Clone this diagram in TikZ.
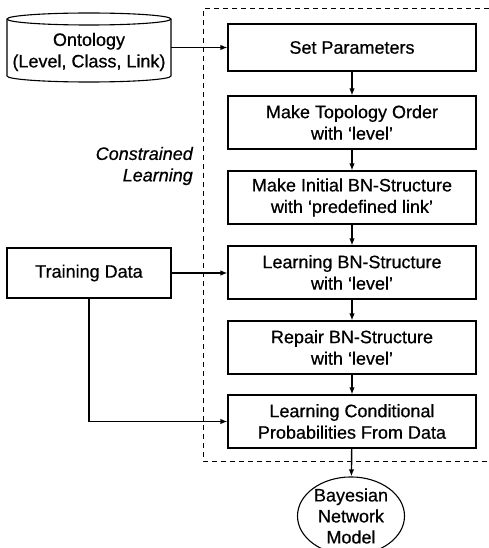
\documentclass[tikz,border=0pt]{standalone}
\usepackage{fontspec}
\setmainfont{Liberation Sans}[FakeBold=0.6]
\usetikzlibrary{arrows.meta,shapes.geometric}
\tikzset{
  txt/.style={font=\fontsize{18}{21.5}\selectfont, align=center, inner sep=0pt},
  stepbox/.style={txt, draw, line width=1.1pt, minimum width=248pt, minimum height=53pt},
  sidebox/.style={txt, draw, line width=1.1pt, minimum width=164pt, minimum height=50pt},
  flow/.style={-{Latex[length=7pt,width=5.5pt]}, line width=1.4pt},
  regionline/.style={dash pattern=on 5pt off 4pt, line width=1pt},
}
\begin{document}
\begin{tikzpicture}[x=1pt,y=1pt]
\useasboundingbox (0,0) rectangle (489,-548);
\clip (0,0) rectangle (489,-548);

% dashed region of the constrained learning steps (open to the right)
\draw[regionline] (489,-9) -- (203,-9) -- (203,-461) -- (489,-461);
\node[txt, font=\fontsize{18}{21.5}\selectfont\itshape, align=right, anchor=east] (cl) at (193,-166) {Constrained\\Learning};

% ontology store drawn as a cylinder
\draw[line width=1.1pt, fill=white]
  (7,-19) -- (7,-76) arc[start angle=180, end angle=360, x radius=82, y radius=6]
  -- (171,-19) arc[start angle=0, end angle=180, x radius=82, y radius=6] -- cycle;
\draw[line width=1.1pt] (7,-19) arc[start angle=180, end angle=360, x radius=82, y radius=6];
\node[txt, minimum width=164pt, minimum height=64pt] (onto) at (89,-52) {Ontology\\(Level, Class, Link)};

% input data
\node[sidebox] (train) at (89,-273) {Training Data};

% learning steps
\node[stepbox, minimum height=47pt] (setp) at (352,-47.5) {Set Parameters};
\node[stepbox] (topo) at (352,-122.5) {Make Topology Order\\with ‘level’};
\node[stepbox] (init) at (352,-197.5) {Make Initial BN-Structure\\with ‘predefined link’};
\node[stepbox] (lbn) at (352,-272.5) {Learning BN-Structure\\with ‘level’};
\node[stepbox] (rep) at (352,-347.5) {Repair BN-Structure\\with ‘level’};
\node[stepbox] (lcp) at (352,-421.5) {Learning Conditional\\Probabilities From Data};

% resulting model, cut by the lower edge
\node[txt, draw, ellipse, line width=1.1pt, minimum width=107pt, minimum height=76pt, font=\fontsize{18}{21}\selectfont] (bn) at (351,-516) {Bayesian\\Network\\Model};

% connectors
\draw[flow] (onto.east |- setp.west) -- (setp.west);
\draw[flow] (setp) -- (topo);
\draw[flow] (topo) -- (init);
\draw[flow] (init) -- (lbn);
\draw[flow] (lbn) -- (rep);
\draw[flow] (rep) -- (lcp);
\draw[flow] (lcp) -- (bn);
\draw[flow] (train.east) -- (lbn.west |- train.east);
\draw[flow] (train.south) |- (lcp.west);
\end{tikzpicture}
\end{document}
